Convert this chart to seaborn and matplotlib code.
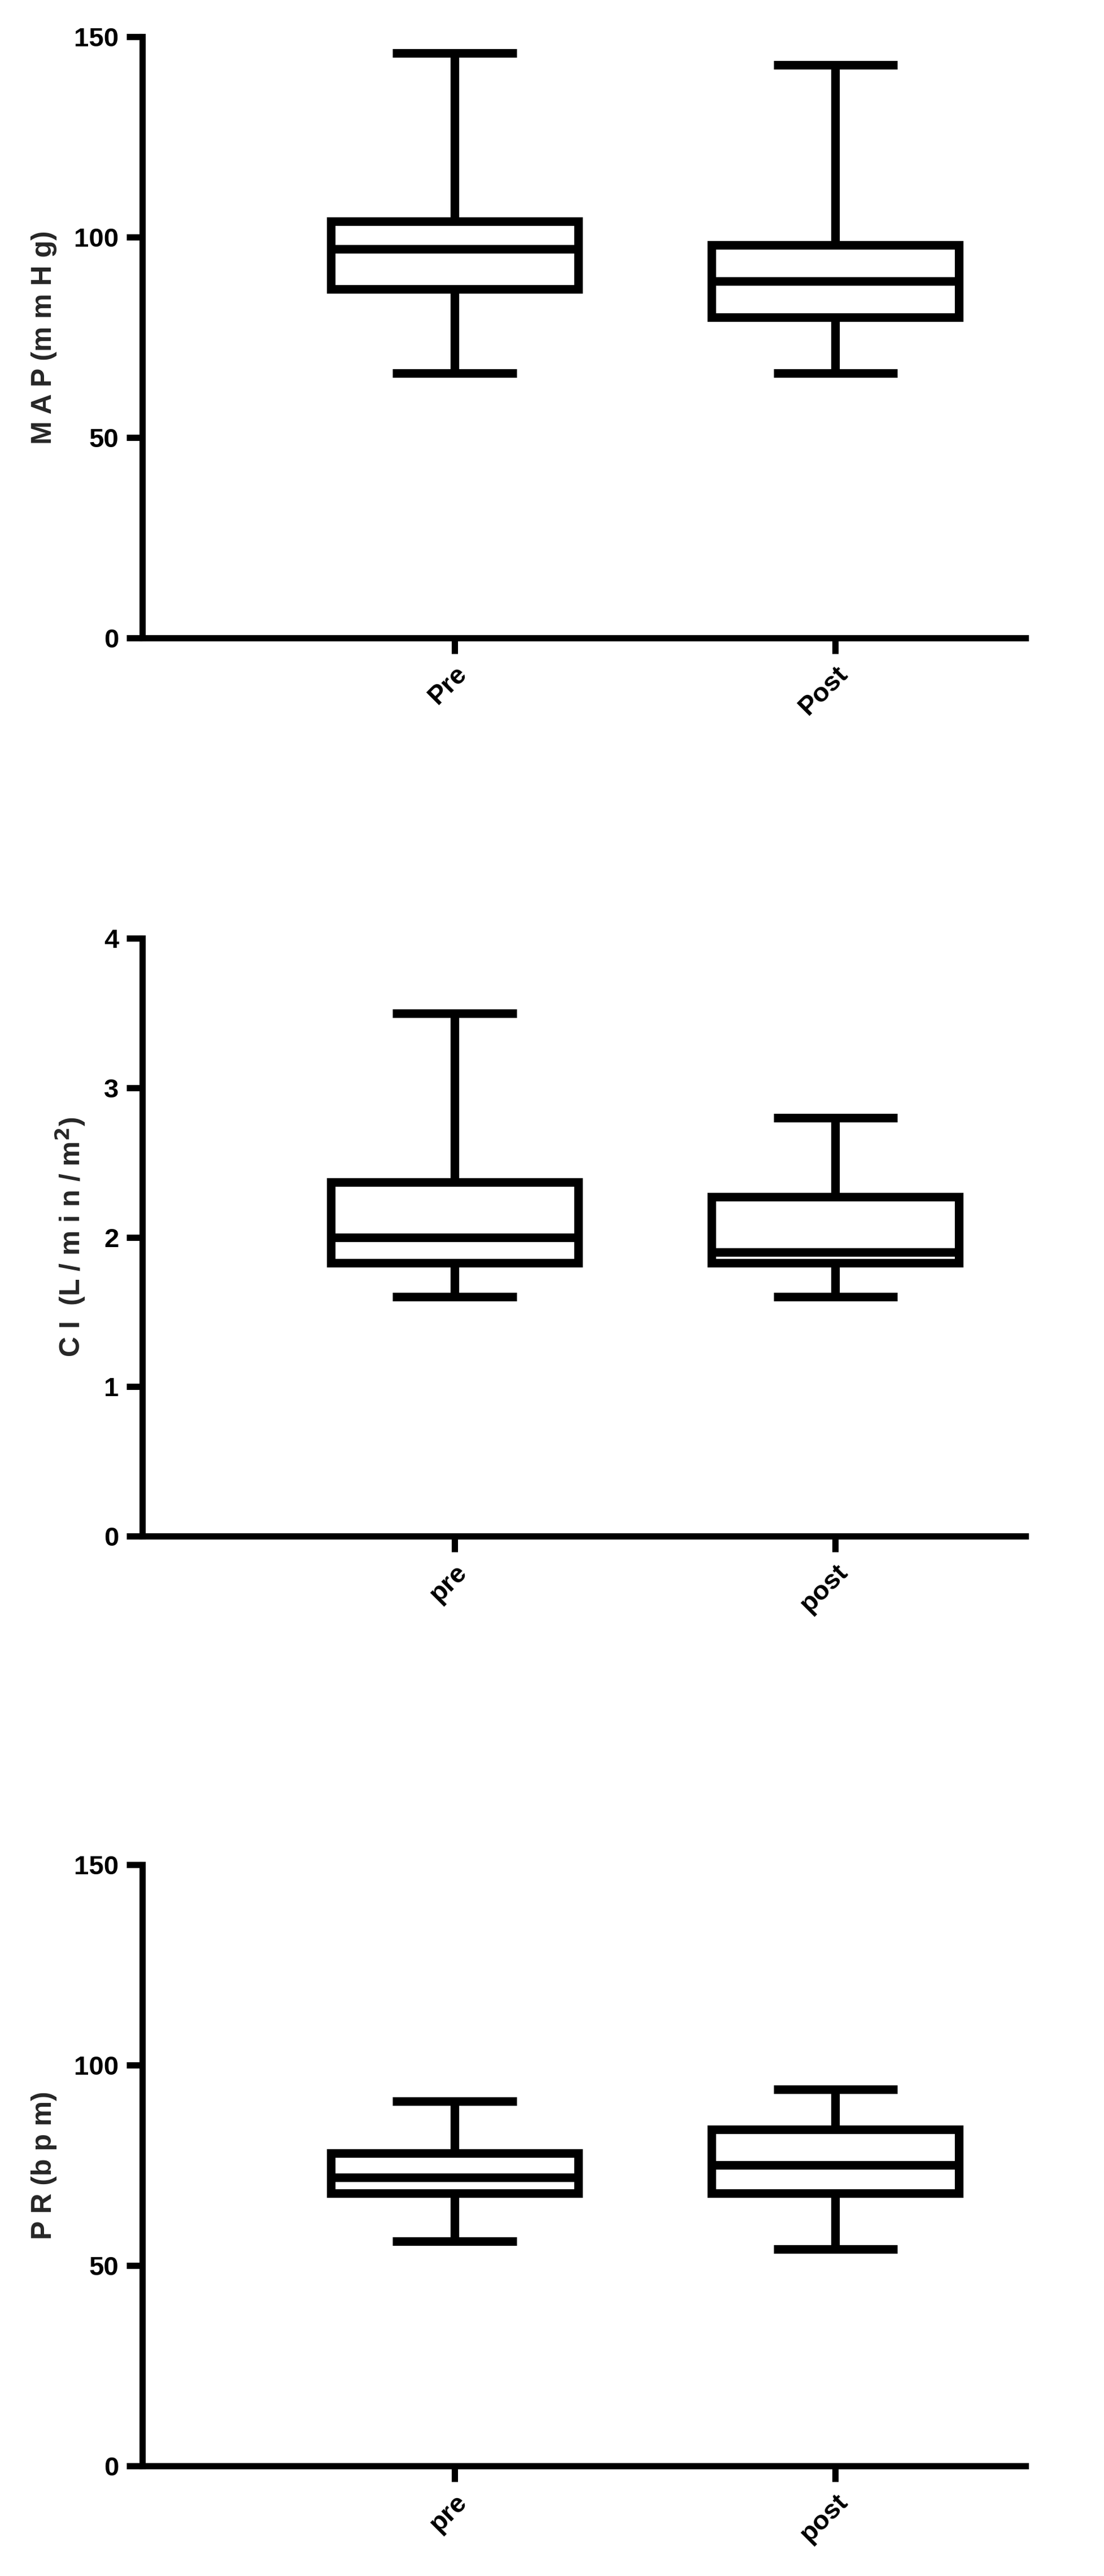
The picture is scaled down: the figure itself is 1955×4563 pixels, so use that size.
import matplotlib
matplotlib.use("Agg")
import matplotlib.pyplot as plt
import pandas as pd
import seaborn as sns

# five-number summaries: min, q1, median, q3, max
map_pre = [66, 87, 97, 104, 146]
map_post = [66, 80, 89, 98, 143]
ci_pre = [1.6, 1.83, 2.0, 2.37, 3.5]
ci_post = [1.6, 1.83, 1.9, 2.27, 2.8]
pr_pre = [56, 68, 72, 78, 91]
pr_post = [54, 68, 75, 84, 94]

panels = [
    (["Pre", "Post"], map_pre, map_post, "M A P (m m H g)", [0, 50, 100, 150], 150,
     [0.129, 0.7524, 0.80, 0.2333]),
    (["pre", "post"], ci_pre, ci_post, r"C I  (L / m i n / m$^\mathbf{2}$)", [0, 1, 2, 3, 4], 4,
     [0.129, 0.4037, 0.80, 0.2320]),
    (["pre", "post"], pr_pre, pr_post, "P R (b p m)", [0, 50, 100, 150], 150,
     [0.129, 0.0428, 0.80, 0.2333]),
]

sns.set_style("ticks", {"axes.edgecolor": "black", "xtick.color": "black", "ytick.color": "black"})
plt.rcParams["font.family"] = ["Liberation Sans", "DejaVu Sans"]

fig = plt.figure(figsize=(19.55, 45.63), dpi=100)
lw = 11
for cats, pre, post, ylabel, yticks, ymax, rect in panels:
    ax = fig.add_axes(rect)
    df = pd.DataFrame({"group": [cats[0]] * 5 + [cats[1]] * 5, "value": pre + post})
    sns.boxplot(data=df, x="group", y="value", order=cats, whis=(0, 100), width=0.65,
                color="white", linecolor="black", linewidth=lw, fliersize=0, ax=ax)
    for line in ax.lines:
        line.set_solid_capstyle("butt")
    ax.set_xlim(-0.82, 1.5)
    ax.set_ylim(0, ymax)
    ax.set_yticks(yticks)
    ax.set_xlabel("")
    ax.set_ylabel(ylabel, fontsize=36, fontweight="bold", labelpad=22)
    ax.tick_params(axis="both", width=8, length=20, labelsize=34, pad=10)
    for lab in ax.get_yticklabels() + ax.get_xticklabels():
        lab.set_fontweight("bold")
    for lab in ax.get_xticklabels():
        lab.set_rotation(45)
        lab.set_ha("right")
        lab.set_rotation_mode("anchor")
    for side in ["left", "bottom"]:
        ax.spines[side].set_linewidth(8)
    sns.despine(ax=ax)

fig.savefig("out.png", dpi=100)
